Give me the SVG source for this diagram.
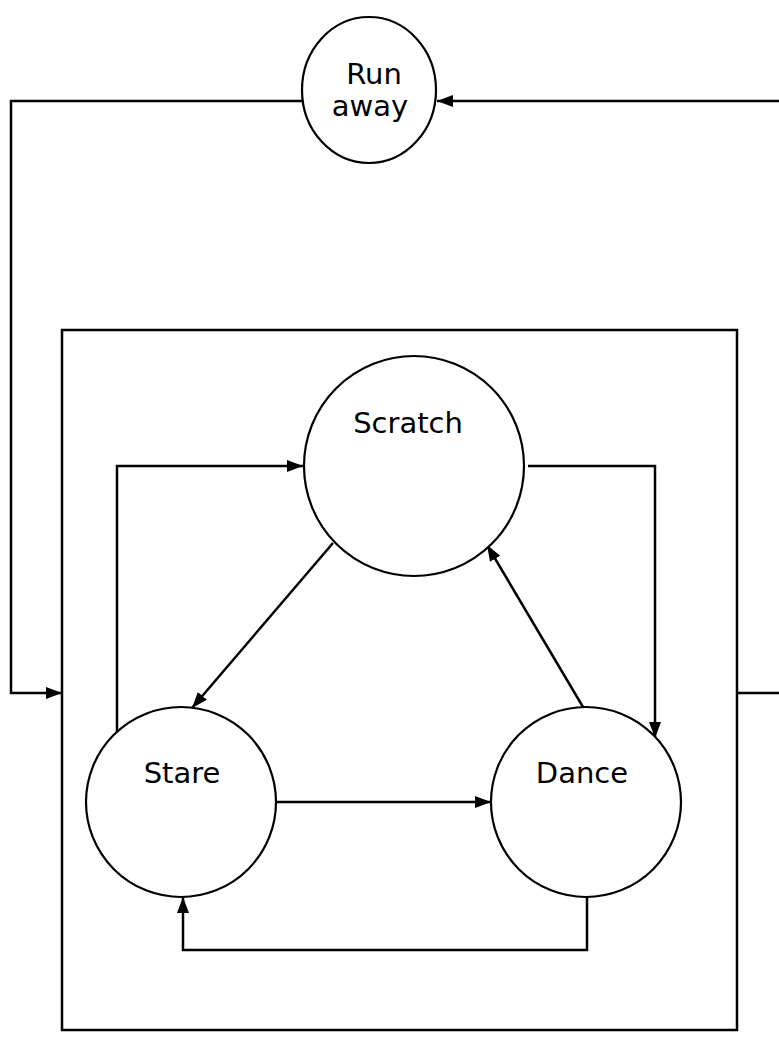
<svg xmlns="http://www.w3.org/2000/svg" width="779" height="1058" viewBox="0 0 779 1058">
<defs>
<style>
.node{fill:#fff;stroke:#000;stroke-width:2.2}
.lbl{font-family:"DejaVu Sans","Liberation Sans",sans-serif;font-size:29px;fill:#000;text-anchor:middle}
.c{fill:none;stroke:#000;stroke-width:2.5}
</style>
<marker id="ah" viewBox="0 0 16 12" refX="16" refY="6" markerWidth="16" markerHeight="12" markerUnits="userSpaceOnUse" orient="auto">
<path d="M0,0 L16,6 L0,12 Z" fill="#000"/>
</marker>
</defs>
<rect width="779" height="1058" fill="#fff"/>
<g id="box"><rect x="62" y="330" width="675" height="700" class="c"/></g>
<g id="connectors">
<path class="c" d="M302,101 H11 V693 H62" marker-end="url(#ah)"/>
<path class="c" d="M779,101 H437" marker-end="url(#ah)"/>
<path class="c" d="M737,693 H779"/>
<path class="c" d="M117,732 V466 H303" marker-end="url(#ah)"/>
<path class="c" d="M528,466 H655 V738" marker-end="url(#ah)"/>
<path class="c" d="M333,543 L192,708" marker-end="url(#ah)"/>
<path class="c" d="M583,707 L487,545" marker-end="url(#ah)"/>
<path class="c" d="M276,802 H491" marker-end="url(#ah)"/>
<path class="c" d="M587,897 V950 H183 V897" marker-end="url(#ah)"/>
</g>
<g id="runaway"><ellipse cx="369" cy="90" rx="67" ry="73" class="node"/><text class="lbl" x="374" y="84">Run</text><text class="lbl" x="370" y="116">away</text></g>
<g id="scratch"><circle cx="414" cy="466" r="110" class="node"/><text class="lbl" x="408" y="433">Scratch</text></g>
<g id="stare"><circle cx="181" cy="802" r="95" class="node"/><text class="lbl" x="182" y="783">Stare</text></g>
<g id="dance"><circle cx="586" cy="802" r="95" class="node"/><text class="lbl" x="582" y="783">Dance</text></g>
</svg>
